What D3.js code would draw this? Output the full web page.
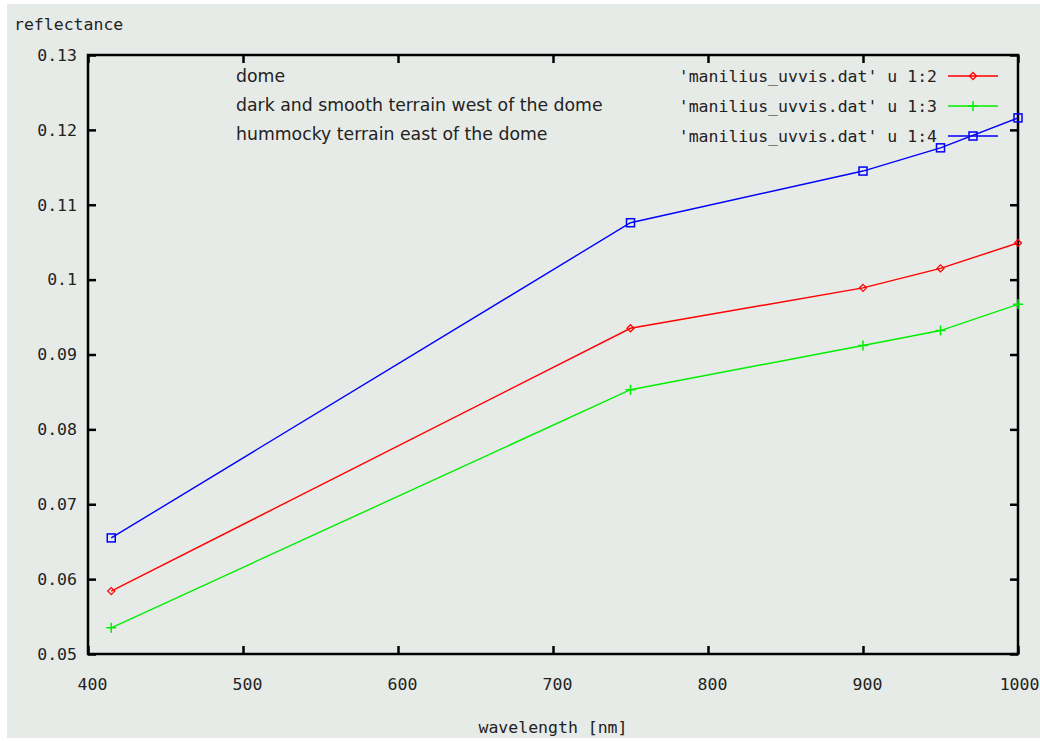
<!DOCTYPE html>
<html>
<head>
<meta charset="utf-8">
<script src="https://cdn.jsdelivr.net/npm/d3@7"></script>
<style>
  body { margin: 0; background: #ffffff; }
  svg text { fill: #222; }
  .mono { font-family: "DejaVu Sans Mono", monospace; font-size: 16.5px; }
  .lbl { font-family: "DejaVu Sans", sans-serif; font-size: 17.3px; }
</style>
</head>
<body>
<div class="chart"></div>
<script>
// data
var wavelengths = [415, 750, 900, 950, 1000];
var dome  = [0.0584, 0.0935, 0.0989, 0.1015, 0.1049];
var west  = [0.0535, 0.0853, 0.0912, 0.0932, 0.0967];
var east  = [0.0655, 0.1076, 0.1145, 0.1176, 0.1216];
var xTicks = [400, 500, 600, 700, 800, 900, 1000];
var yTicks = [0.05, 0.06, 0.07, 0.08, 0.09, 0.1, 0.11, 0.12, 0.13];
var yTickLabels = ["0.05", "0.06", "0.07", "0.08", "0.09", "0.1", "0.11", "0.12", "0.13"];
var labels = ["dome", "dark and smooth terrain west of the dome", "hummocky terrain east of the dome"];
var keyTitles = ["'manilius_uvvis.dat' u 1:2", "'manilius_uvvis.dat' u 1:3", "'manilius_uvvis.dat' u 1:4"];

var series = [
  {values: dome, color: "#ff0000", marker: "diamond"},
  {values: west, color: "#00ee00", marker: "plus"},
  {values: east, color: "#0000ff", marker: "square"}
];

// set the dimensions and margins of the graph
var W = 1040, H = 741;
var margin = {top: 55, right: 22, bottom: 87, left: 88},
    width = W - margin.left - margin.right,
    height = H - margin.top - margin.bottom;

var x = d3.scaleLinear().domain([400, 1000]).range([0, width]);
var y = d3.scaleLinear().domain([0.05, 0.13]).range([height, 0]);

var svg = d3.select(".chart").append("svg")
    .attr("width", W)
    .attr("height", H);

// grey canvas with thin white border
svg.append("rect")
    .attr("x", 7).attr("y", 4)
    .attr("width", W - 7).attr("height", H - 7)
    .attr("fill", "#e7ebe7");

var g = svg.append("g")
    .attr("transform", "translate(" + margin.left + "," + margin.top + ")");

// axes with inward ticks (mirrored on top and right)
function styleAxis(sel) {
  sel.select(".domain").remove();
  sel.selectAll(".tick line").attr("stroke", "#000").attr("stroke-width", 2.5);
  sel.selectAll(".tick text").attr("class", "mono").style("fill", "#222");
}

g.append("g")
    .attr("transform", "translate(0," + height + ")")
    .call(d3.axisBottom(x).tickValues(xTicks).tickSize(-8).tickPadding(24).tickFormat(d3.format("d")))
    .call(styleAxis)
    .selectAll(".tick text")
      .attr("dx", function(d) { return d === 1000 ? 1 : 4; });

g.append("g")
    .call(d3.axisTop(x).tickValues(xTicks).tickSize(-8).tickFormat(""))
    .call(styleAxis);

g.append("g")
    .call(d3.axisLeft(y).tickValues(yTicks).tickSize(-8).tickPadding(11)
      .tickFormat(function(d, i) { return yTickLabels[i]; }))
    .call(styleAxis);

g.append("g")
    .attr("transform", "translate(" + width + ",0)")
    .call(d3.axisRight(y).tickValues(yTicks).tickSize(-8).tickFormat(""))
    .call(styleAxis);

// border
g.append("rect")
    .attr("width", width).attr("height", height)
    .attr("fill", "none").attr("stroke", "#000").attr("stroke-width", 2.5);

// axis titles
svg.append("text").attr("class", "mono")
    .attr("x", 14).attr("y", 30).text("reflectance");
svg.append("text").attr("class", "mono")
    .attr("x", margin.left + width / 2).attr("y", 733)
    .attr("text-anchor", "middle").text("wavelength [nm]");

// markers
function drawMarker(sel, type, color) {
  if (type === "diamond") {
    sel.append("path").attr("d", "M0,-3.5L3.5,0L0,3.5L-3.5,0Z")
      .attr("fill", "none").attr("stroke", color).attr("stroke-width", 1.3);
  } else if (type === "plus") {
    sel.append("path").attr("d", "M-5,0H5M0,-5V5")
      .attr("fill", "none").attr("stroke", color).attr("stroke-width", 1.5);
  } else {
    sel.append("rect").attr("x", -4).attr("y", -4).attr("width", 8).attr("height", 8)
      .attr("fill", "none").attr("stroke", color).attr("stroke-width", 1.5);
  }
}

var line = d3.line()
    .x(function(d) { return x(d[0]); })
    .y(function(d) { return y(d[1]); });

series.forEach(function(s) {
  var pts = wavelengths.map(function(w, i) { return [w, s.values[i]]; });
  g.append("path")
      .attr("d", line(pts))
      .attr("fill", "none")
      .attr("stroke", s.color)
      .attr("stroke-width", 1.4);
  pts.forEach(function(p) {
    var m = g.append("g").attr("transform", "translate(" + x(p[0]) + "," + y(p[1]) + ")");
    drawMarker(m, s.marker, s.color);
  });
});

// labels inside plot
labels.forEach(function(t, i) {
  svg.append("text").attr("class", "lbl")
      .attr("x", 236).attr("y", 82 + i * 29)
      .text(t);
});

// key (top right)
keyTitles.forEach(function(t, i) {
  var yy = 76 + i * 30;
  svg.append("text").attr("class", "mono")
      .attr("x", 937).attr("y", yy + 6)
      .attr("text-anchor", "end").text(t);
  svg.append("line")
      .attr("x1", 948).attr("x2", 998).attr("y1", yy).attr("y2", yy)
      .attr("stroke", series[i].color).attr("stroke-width", 1.4);
  var m = svg.append("g").attr("transform", "translate(973," + yy + ")");
  drawMarker(m, series[i].marker, series[i].color);
});
</script>
</body>
</html>
